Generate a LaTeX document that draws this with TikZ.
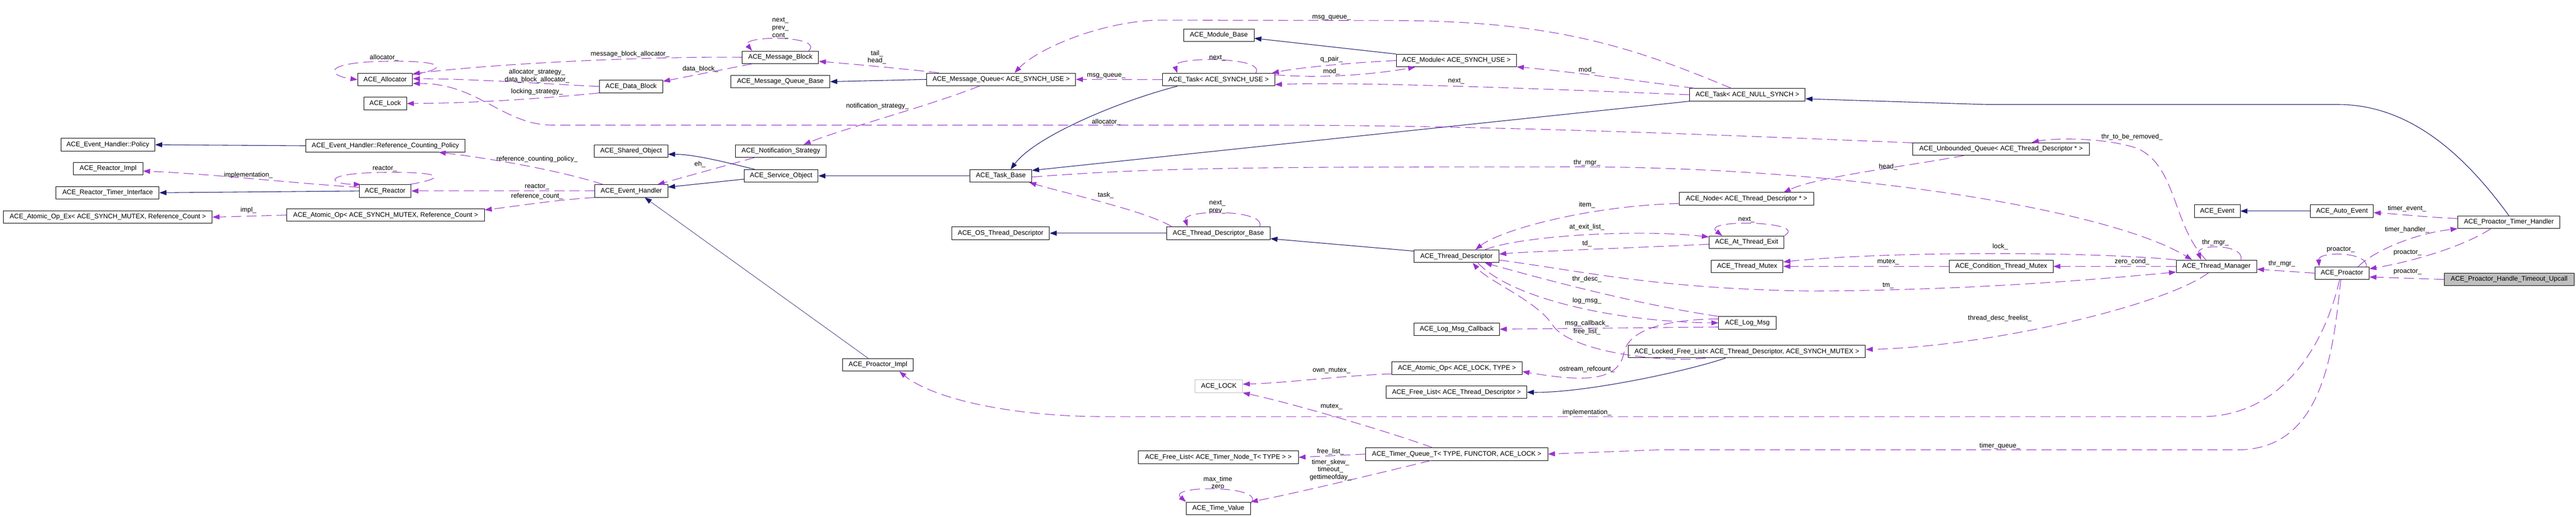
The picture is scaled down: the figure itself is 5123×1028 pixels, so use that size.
\documentclass[tikz,border=0pt]{standalone}
\usepackage{fontspec}
\setmainfont{Liberation Sans}
\usetikzlibrary{arrows.meta}
\definecolor{basenavy}{HTML}{191970}
\definecolor{usepurple}{HTML}{9A32CD}
\definecolor{docgray}{HTML}{BFBFBF}
\newcommand{\dgfont}{\fontsize{6.6pt}{7.5pt}\selectfont}
\tikzstyle{cls} = [
    rectangle,
    draw = black,
    line width = 0.5pt,
    minimum height = 12.5pt,
    inner xsep = 0pt,
    inner ysep = 0pt,
    text centered,
    font = \dgfont
]
\tikzstyle{undoc} = [cls, draw = docgray]
\tikzstyle{focus} = [cls, fill = docgray]
\tikzstyle{inherit} = [
    draw = basenavy,
    line width = 0.55pt,
    -{Triangle[length = 7pt, width = 5pt]}
]
\tikzstyle{uses} = [
    draw = usepurple,
    line width = 0.55pt,
    dash pattern = on 10pt off 5pt,
    -{Triangle[length = 7pt, width = 5pt]}
]
\tikzstyle{lbl} = [font = \dgfont, inner sep = 0pt, align = center]

\begin{document}
\begin{tikzpicture}[x = 0.5pt, y = -0.5pt]
    \path [fill = white, use as bounding box] (0, 0) rectangle (5123, 1028);

    \node (alloc) [cls, minimum width = 54.5pt] at (766, 158.5) {ACE\_Allocator};
    \node (lock) [cls, minimum width = 42.5pt] at (766, 206) {ACE\_Lock};
    \node (policy) [cls, minimum width = 93.5pt] at (214.5, 288) {ACE\_Event\_Handler::Policy};
    \node (reactorimpl) [cls, minimum width = 69pt] at (215, 335.5) {ACE\_Reactor\_Impl};
    \node (timerintf) [cls, minimum width = 102.5pt] at (214, 383.5) {ACE\_Reactor\_Timer\_Interface};
    \node
        (atomicex)
        [cls, minimum width = 207.5pt]
        at (214.5, 432)
        {ACE\_Atomic\_Op\_Ex< ACE\_SYNCH\_MUTEX, Reference\_Count >};
    \node
        (refpolicy)
        [cls, minimum width = 158.5pt]
        at (766.5, 290)
        {ACE\_Event\_Handler::Reference\_Counting\_Policy};
    \node (reactor) [cls, minimum width = 51.5pt] at (766, 380) {ACE\_Reactor};
    \node
        (atomicop)
        [cls, minimum width = 196.5pt]
        at (767, 428)
        {ACE\_Atomic\_Op< ACE\_SYNCH\_MUTEX, Reference\_Count >};

    \node (msgblock) [cls, minimum width = 76pt] at (1552, 114) {ACE\_Message\_Block};
    \node (datablock) [cls, minimum width = 63pt] at (1255, 172) {ACE\_Data\_Block};
    \node (mqbase) [cls, minimum width = 98.5pt] at (1552, 162.5) {ACE\_Message\_Queue\_Base};
    \node (sharedobj) [cls, minimum width = 73pt] at (1255, 300.5) {ACE\_Shared\_Object};
    \node (notify) [cls, minimum width = 90pt] at (1553, 300.5) {ACE\_Notification\_Strategy};
    \node (svcobj) [cls, minimum width = 73.5pt] at (1553.5, 350) {ACE\_Service\_Object};
    \node (evhandler) [cls, minimum width = 72.5pt] at (1255.5, 380) {ACE\_Event\_Handler};
    \node (proimpl) [cls, minimum width = 70pt] at (1746, 726) {ACE\_Proactor\_Impl};

    \node (msgqueue) [cls, minimum width = 148pt] at (1991, 158) {ACE\_Message\_Queue< ACE\_SYNCH\_USE >};
    \node (taskbase) [cls, minimum width = 61.5pt] at (1990.5, 350) {ACE\_Task\_Base};
    \node (osthread) [cls, minimum width = 97pt] at (1990, 464) {ACE\_OS\_Thread\_Descriptor};

    \node (modbase) [cls, minimum width = 70pt] at (2424, 70) {ACE\_Module\_Base};
    \node (tasksynch) [cls, minimum width = 111.5pt] at (2423.5, 158.5) {ACE\_Task< ACE\_SYNCH\_USE >};
    \node (tdbase) [cls, minimum width = 103pt] at (2423, 464) {ACE\_Thread\_Descriptor\_Base};
    \node (acelock) [undoc, minimum width = 47pt] at (2424, 768.5) {ACE\_LOCK};
    \node
        (freelisttn)
        [cls, minimum width = 159pt]
        at (2423, 910)
        {ACE\_Free\_List< ACE\_Timer\_Node\_T< TYPE > >};
    \node (timevalue) [cls, minimum width = 64pt] at (2423, 1011.5) {ACE\_Time\_Value};

    \node (module) [cls, minimum width = 119.5pt] at (2896.5, 120.5) {ACE\_Module< ACE\_SYNCH\_USE >};
    \node (thrdesc) [cls, minimum width = 84.5pt] at (2896.5, 510) {ACE\_Thread\_Descriptor};
    \node (logcb) [cls, minimum width = 85pt] at (2897, 655) {ACE\_Log\_Msg\_Callback};
    \node (atomiclock) [cls, minimum width = 129.5pt] at (2897.5, 732.5) {ACE\_Atomic\_Op< ACE\_LOCK, TYPE >};
    \node
        (freelisttd)
        [cls, minimum width = 139.5pt]
        at (2896.5, 780.5)
        {ACE\_Free\_List< ACE\_Thread\_Descriptor >};
    \node
        (timerq)
        [cls, minimum width = 181pt]
        at (2897, 903.5)
        {ACE\_Timer\_Queue\_T< TYPE, FUNCTOR, ACE\_LOCK >};

    \node (tasknull) [cls, minimum width = 115pt] at (3475, 188.5) {ACE\_Task< ACE\_NULL\_SYNCH >};
    \node (tdnode) [cls, minimum width = 133.5pt] at (3473.5, 395.5) {ACE\_Node< ACE\_Thread\_Descriptor * >};
    \node (atexit) [cls, minimum width = 74.5pt] at (3473.5, 482) {ACE\_At\_Thread\_Exit};
    \node (thrmutex) [cls, minimum width = 71.5pt] at (3474.5, 530) {ACE\_Thread\_Mutex};
    \node (logmsg) [cls, minimum width = 57pt] at (3475, 642.5) {ACE\_Log\_Msg};
    \node
        (lockedfree)
        [cls, minimum width = 236pt]
        at (3474, 699.5)
        {ACE\_Locked\_Free\_List< ACE\_Thread\_Descriptor, ACE\_SYNCH\_MUTEX >};

    \node
        (uqueue)
        [cls, minimum width = 175.5pt]
        at (3979.5, 296.5)
        {ACE\_Unbounded\_Queue< ACE\_Thread\_Descriptor * >};
    \node (condmutex) [cls, minimum width = 103pt] at (3980, 530) {ACE\_Condition\_Thread\_Mutex};
    \node (event) [cls, minimum width = 45.5pt] at (4409.5, 420) {ACE\_Event};
    \node (thrmgr) [cls, minimum width = 80pt] at (4408, 530) {ACE\_Thread\_Manager};
    \node (autoevent) [cls, minimum width = 62.5pt] at (4657.5, 420) {ACE\_Auto\_Event};
    \node (proactor) [cls, minimum width = 54pt] at (4657.5, 543.5) {ACE\_Proactor};
    \node (timerhandler) [cls, minimum width = 101.5pt] at (4989.5, 442) {ACE\_Proactor\_Timer\_Handler};
    \node
        (upcall)
        [focus, minimum width = 129pt]
        at (4990, 556)
        {ACE\_Proactor\_Handle\_Timeout\_Upcall};

    % base classes
    \draw [inherit] (refpolicy.west) -- (policy.east);
    \draw [inherit] (reactor.west) -- (timerintf.east);
    \draw [inherit] (svcobj.166) .. controls (1440, 322) and (1380, 307) .. (sharedobj.-5);
    \draw [inherit] (svcobj.185) -- (evhandler.6);
    \draw [inherit] (taskbase.west) -- (svcobj.east);
    \draw [inherit] (msgqueue.west) -- (mqbase.east);
    \draw [inherit] (tasksynch.189) .. controls (2230, 200) and (2060, 270) .. (taskbase.34);
    \draw [inherit] (tasknull.south west) -- (taskbase.10);
    \draw [inherit] (tdbase.west) -- (osthread.east);
    \draw [inherit] (thrdesc.173) -- (tdbase.-6);
    \draw [inherit] (module.north west) -- (modbase.-5);
    \draw [inherit] (lockedfree.197) .. controls (3350, 740) and (3150, 782) .. (freelisttd.east);
    \draw [inherit, line width = 0.35pt] (proimpl.146) -- (evhandler.-26);
    \draw [inherit] (autoevent.west) -- (event.east);
    \draw [inherit]
        (timerhandler.north) .. controls (4910, 320) and (4800, 208) .. (4650, 208)
        -- (3950, 208) -- (tasknull.-4);

    % members
    \draw [uses]
        (alloc.10) .. controls (900, 135) and (880, 120) .. (766, 122)
        .. controls (640, 124) and (650, 150) .. (alloc.west)
        node [lbl] at (764, 115) {allocator\_};
    \draw [uses]
        (msgblock.west) .. controls (1300, 112) and (1000, 125) .. (alloc.12)
        node [lbl] at (1253, 108) {message\_block\_allocator\_};
    \draw [uses]
        (datablock.west) .. controls (1100, 168) and (950, 157) .. (alloc.2)
        node [lbl] at (1068, 151.5) {allocator\_strategy\_\\data\_block\_allocator\_};
    \draw [uses]
        (datablock.south west) .. controls (1080, 196) and (950, 205) .. (lock.east)
        node [lbl] at (1068, 183) {locking\_strategy\_};
    \draw [uses]
        (msgblock.193) -- (datablock.9)
        node [lbl] at (1393, 137) {data\_block\_};
    \draw [uses]
        (msgblock.13) .. controls (1640, 70) and (1470, 70) .. (msgblock.167)
        node [lbl] at (1552, 56) {next\_\\prev\_\\cont\_};
    \draw [uses]
        (msgqueue.174) .. controls (1780, 135) and (1700, 128) .. (msgblock.-6)
        node [lbl] at (1744, 114) {tail\_\\head\_};
    \draw [uses]
        (msgqueue.197) .. controls (1850, 210) and (1680, 255) .. (notify.16)
        node [lbl] at (1745, 211) {notification\_strategy\_};
    \draw [uses]
        (notify.194) -- (evhandler.14)
        node [lbl] at (1392, 327) {eh\_};
    \draw [uses]
        (evhandler.167) .. controls (1100, 335) and (950, 312) .. (refpolicy.-7)
        node [lbl] at (1068, 317) {reference\_counting\_policy\_};
    \draw [uses]
        (evhandler.west) -- (reactor.east)
        node [lbl] at (1068, 372) {reactor\_};
    \draw [uses]
        (evhandler.south west) .. controls (1100, 398) and (1030, 410) .. (atomicop.3)
        node [lbl] at (1068, 391) {reference\_count\_};
    \draw [uses]
        (reactor.15) .. controls (900, 352) and (870, 342) .. (766, 343)
        .. controls (640, 344) and (650, 366) .. (reactor.165)
        node [lbl] at (765, 336) {reactor\_};
    \draw [uses]
        (reactor.172) .. controls (600, 366) and (420, 346) .. (reactorimpl.-4)
        node [lbl] at (494, 349) {implementation\_};
    \draw [uses]
        (atomicop.west) -- (atomicex.east)
        node [lbl] at (494, 418) {impl\_};
    \draw [uses]
        (uqueue.176) .. controls (3500, 272) and (3000, 250) .. (2550, 249)
        -- (1100, 249) .. controls (1000, 249) and (950, 165) .. (alloc.-8)
        node [lbl] at (2200, 243) {allocator\_};

    \draw [uses]
        (tasksynch.west) -- (msgqueue.east)
        node [lbl] at (2200, 151) {msg\_queue\_};
    \draw [uses]
        (tasknull.158) .. controls (3250, 95) and (3100, 45) .. (2800, 41)
        -- (2300, 40) .. controls (2180, 45) and (2060, 100) .. (msgqueue.26)
        node [lbl] at (2648, 35) {msg\_queue\_};
    \draw [uses]
        (tasksynch.10) .. controls (2520, 112) and (2330, 112) .. (tasksynch.171)
        node [lbl] at (2421, 115) {next\_};
    \draw [uses]
        (module.west) .. controls (2680, 125) and (2580, 135) .. (tasksynch.7)
        node [lbl] at (2648, 118) {q\_pair\_};
    \draw [uses]
        (tasksynch.5) .. controls (2640, 158) and (2750, 145) .. (module.189)
        node [lbl] at (2648, 143) {mod\_};
    \draw [uses]
        (tasknull.173) .. controls (3250, 160) and (3100, 140) .. (module.-6)
        node [lbl] at (3156, 139) {mod\_};
    \draw [uses]
        (tasknull.west) .. controls (3100, 178) and (2700, 162) .. (tasksynch.-5)
        node [lbl] at (2896, 161) {next\_};
    \draw [uses]
        (taskbase.-2) .. controls (2300, 333) and (2500, 332) .. (3156, 332)
        .. controls (3700, 335) and (4200, 420) .. (thrmgr.165)
        node [lbl] at (3156, 324) {thr\_mgr\_};
    \draw [uses]
        (tdbase.172) .. controls (2280, 420) and (2120, 385) .. (taskbase.-13)
        node [lbl] at (2199, 388) {task\_};
    \draw [uses]
        (tdbase.9) .. controls (2520, 416) and (2350, 416) .. (tdbase.168)
        node [lbl] at (2421, 412) {next\_\\prev\_};

    \draw [uses]
        (tdnode.184) .. controls (3150, 410) and (2980, 460) .. (thrdesc.19)
        node [lbl] at (3156, 408) {item\_};
    \draw [uses]
        (thrdesc.13) .. controls (3020, 470) and (3250, 455) .. (atexit.172)
        node [lbl] at (3156, 452) {at\_exit\_list\_};
    \draw [uses]
        (atexit.183) .. controls (3250, 493) and (3050, 500) .. (thrdesc.3)
        node [lbl] at (3156, 485) {td\_};
    \draw [uses]
        (atexit.north east) .. controls (3600, 440) and (3380, 435) .. (atexit.165)
        node [lbl] at (3473, 437) {next\_};
    \draw [uses]
        (uqueue.190) .. controls (3800, 330) and (3620, 350) .. (tdnode.10)
        node [lbl] at (3755, 332) {head\_};
    \draw [uses]
        (thrmgr.148) .. controls (4320, 450) and (4330, 330) .. (4250, 295)
        .. controls (4180, 272) and (4080, 275) .. (uqueue.12)
        node [lbl] at (4240, 273) {thr\_to\_be\_removed\_};
    \draw [uses]
        (thrmgr.north west) .. controls (4150, 500) and (3750, 500) .. (thrmutex.7)
        node [lbl] at (3978, 491) {lock\_};
    \draw [uses]
        (condmutex.west) -- (thrmutex.east)
        node [lbl] at (3755, 521) {mutex\_};
    \draw [uses]
        (thrmgr.west) -- (condmutex.east)
        node [lbl] at (4240, 521) {zero\_cond\_};
    \draw [uses]
        (thrdesc.-5) .. controls (3150, 540) and (3300, 575) .. (3600, 579)
        .. controls (3900, 578) and (4150, 558) .. (thrmgr.188)
        node [lbl] at (3755, 568) {tm\_};

    \draw [uses]
        (logmsg.north west) .. controls (3250, 605) and (3050, 550) .. (thrdesc.-13)
        node [lbl] at (3156, 555) {thr\_desc\_};
    \draw [uses]
        (thrdesc.-17) .. controls (3000, 590) and (3200, 640) .. (logmsg.west)
        node [lbl] at (3156, 599) {log\_msg\_};
    \draw [uses]
        (logmsg.188) -- (logcb.east)
        node [lbl] at (3156, 644) {msg\_callback\_};
    \draw [uses]
        (lockedfree.189) .. controls (3300, 722) and (3130, 700) .. (3090, 650)
        .. controls (3060, 600) and (2960, 560) .. (thrdesc.-22)
        node [lbl] at (3156, 660) {free\_list\_};
    \draw [uses]
        (logmsg.172) .. controls (3300, 636) and (3240, 660) .. (3230, 700)
        .. controls (3220, 760) and (3150, 760) .. (atomiclock.-3)
        node [lbl] at (3156, 735) {ostream\_refcount\_};
    \draw [uses]
        (atomiclock.185) .. controls (2660, 748) and (2560, 762) .. (acelock.5)
        node [lbl] at (2648, 737) {own\_mutex\_};
    \draw [uses]
        (timerq.165) .. controls (2750, 855) and (2560, 800) .. (acelock.south east)
        node [lbl] at (2648, 809) {mutex\_};
    \draw [uses]
        (timerq.west) -- (freelisttn.east)
        node [lbl] at (2646, 899) {free\_list\_};
    \draw [uses]
        (timerq.194) .. controls (2750, 940) and (2560, 985) .. (timevalue.north east)
        node [lbl] at (2646, 935) {timer\_skew\_\\timeout\_\\gettimeofday\_};
    \draw [uses]
        (timevalue.9) .. controls (2520, 965) and (2320, 965) .. (timevalue.north west)
        node [lbl] at (2422, 960) {max\_time\\zero};

    \draw [uses]
        (proactor.250) .. controls (4620, 700) and (4530, 828) .. (4380, 829)
        -- (2200, 829) .. controls (2000, 829) and (1850, 790) .. (proimpl.-17)
        node [lbl] at (3156, 821) {implementation\_};
    \draw [uses]
        (proactor.260) .. controls (4640, 700) and (4620, 895) .. (4450, 895)
        -- (3300, 895) -- (timerq.east)
        node [lbl] at (3977, 887) {timer\_queue\_};
    \draw [uses]
        (thrmgr.219) .. controls (4300, 610) and (3950, 690) .. (lockedfree.1)
        node [lbl] at (3977, 633) {thread\_desc\_freelist\_};
    \draw [uses]
        (proactor.west) -- (thrmgr.-4)
        node [lbl] at (4538, 525) {thr\_mgr\_};
    \draw [uses]
        (thrmgr.15) .. controls (4465, 485) and (4365, 485) .. (thrmgr.157)
        node [lbl] at (4406, 483) {thr\_mgr\_};
    \draw [uses]
        (upcall.west) -- (proactor.-8)
        node [lbl] at (4788, 541) {proactor\_};
    \draw [uses]
        (timerhandler.200) .. controls (4900, 490) and (4800, 520) .. (proactor.9)
        node [lbl] at (4788, 503) {proactor\_};
    \draw [uses]
        (proactor.22) .. controls (4720, 500) and (4800, 465) .. (timerhandler.south west)
        node [lbl] at (4787, 457) {timer\_handler\_};
    \draw [uses]
        (proactor.15) .. controls (4710, 500) and (4610, 500) .. (proactor.164)
        node [lbl] at (4655, 497) {proactor\_};
    \draw [uses]
        (timerhandler.176) .. controls (4820, 432) and (4760, 425) .. (autoevent.-3)
        node [lbl] at (4787, 415) {timer\_event\_};
\end{tikzpicture}
\end{document}
